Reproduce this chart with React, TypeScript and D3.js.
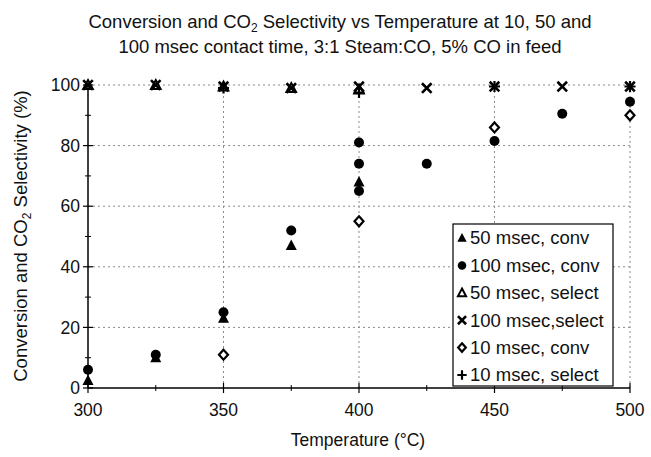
import React from "react";
import * as d3 from "d3";

// Temperatures (°C) paired with percent values for each series
const conv50: [number, number][] = [[300, 2.5], [325, 10], [350, 23], [375, 47], [400, 68]];
const conv100: [number, number][] = [
  [300, 6], [325, 11], [350, 25], [375, 52], [400, 81], [400, 74], [400, 65],
  [425, 74], [450, 81.5], [475, 90.5], [500, 94.5],
];
const sel50: [number, number][] = [[300, 100], [325, 100], [350, 99.5], [375, 99], [400, 98.5]];
const sel100: [number, number][] = [
  [300, 100], [325, 100], [350, 99.5], [375, 99], [400, 99.5],
  [425, 99], [450, 99.5], [475, 99.5], [500, 99.5],
];
const conv10: [number, number][] = [[350, 11], [400, 55], [450, 86], [500, 90]];
const sel10: [number, number][] = [[350, 99], [400, 97.5], [450, 99.5], [500, 99.5]];

const xTicks = [300, 350, 400, 450, 500];
const xMinor = [325, 375, 425, 475];
const yTicks = [0, 20, 40, 60, 80, 100];
const yMinor = [10, 30, 50, 70, 90];

type Shape = "triUp" | "dot" | "triOpen" | "cross" | "diamond" | "plus";

const series: { label: string; shape: Shape; data: [number, number][] }[] = [
  { label: "50 msec, conv", shape: "triUp", data: conv50 },
  { label: "100 msec, conv", shape: "dot", data: conv100 },
  { label: "50 msec, select", shape: "triOpen", data: sel50 },
  { label: "100 msec,select", shape: "cross", data: sel100 },
  { label: "10 msec, conv", shape: "diamond", data: conv10 },
  { label: "10 msec, select", shape: "plus", data: sel10 },
];

const FONT = "'Liberation Sans', Arial, sans-serif";

function Marker({ shape, x, y, s = 1 }: { shape: Shape; x: number; y: number; s?: number }) {
  const k = s;
  switch (shape) {
    case "triUp":
      return <path d={`M${x},${y - 6 * k}L${x + 5.5 * k},${y + 4.5 * k}L${x - 5.5 * k},${y + 4.5 * k}Z`} fill="#000" />;
    case "dot":
      return <circle cx={x} cy={y} r={5 * k} fill="#000" />;
    case "triOpen":
      return (
        <path d={`M${x},${y - 5 * k}L${x + 4.8 * k},${y + 4 * k}L${x - 4.8 * k},${y + 4 * k}Z`}
          fill="none" stroke="#000" strokeWidth={2} />
      );
    case "cross":
      return (
        <path d={`M${x - 4.8 * k},${y - 4.8 * k}L${x + 4.8 * k},${y + 4.8 * k}M${x + 4.8 * k},${y - 4.8 * k}L${x - 4.8 * k},${y + 4.8 * k}`}
          stroke="#000" strokeWidth={2.6} />
      );
    case "diamond":
      return (
        <path d={`M${x},${y - 5 * k}L${x + 4.5 * k},${y}L${x},${y + 5 * k}L${x - 4.5 * k},${y}Z`}
          fill="#fff" stroke="#000" strokeWidth={2.2} />
      );
    case "plus":
      return (
        <path d={`M${x - 5.5 * k},${y}L${x + 5.5 * k},${y}M${x},${y - 5.5 * k}L${x},${y + 5.5 * k}`}
          stroke="#000" strokeWidth={2.2} />
      );
  }
}

export default function App() {
  const W = 651, H = 457;
  const x = d3.scaleLinear().domain([300, 500]).range([88, 630]);
  const y = d3.scaleLinear().domain([0, 100]).range([388, 85]);
  const [x0, x1] = x.range();
  const [y0, y1] = y.range();

  const legend = { x: 453, y: 224, w: 160, h: 162 };
  const rowY = d3.scaleLinear().domain([0, series.length - 1]).range([238, 375]);

  return (
    <svg width={W} height={H} style={{ position: "absolute", left: 0, top: 0, background: "#fff" }}
      fontFamily={FONT}>
      <rect width={W} height={H} fill="#fff" />
      {/* title */}
      <text x={340} y={28} textAnchor="middle" fontSize={18.5} fill="#111">
        Conversion and CO<tspan fontSize={12} dy={4}>2</tspan><tspan dy={-4}> Selectivity vs Temperature at 10, 50 and</tspan>
      </text>
      <text x={340} y={53} textAnchor="middle" fontSize={18.5} fill="#111">
        100 msec contact time, 3:1 Steam:CO, 5% CO in feed
      </text>

      {/* grid */}
      {yTicks.filter((t) => t > 0).map((t) => (
        <line key={"gy" + t} x1={x0} x2={x1} y1={y(t)} y2={y(t)} stroke="#8a8a8a" strokeWidth={1} strokeDasharray="2,3" />
      ))}
      {xTicks.filter((t) => t > 300).map((t) => (
        <line key={"gx" + t} x1={x(t)} x2={x(t)} y1={y0} y2={y1} stroke="#8a8a8a" strokeWidth={1} strokeDasharray="2,3" />
      ))}

      {/* axes */}
      <line x1={x0} x2={x0} y1={y0} y2={y1} stroke="#000" strokeWidth={1.5} />
      <line x1={x0} x2={x1} y1={y0} y2={y0} stroke="#000" strokeWidth={1.5} />
      {yTicks.map((t) => (
        <g key={"yt" + t}>
          <line x1={x0 - 5} x2={x0 + 5} y1={y(t)} y2={y(t)} stroke="#000" strokeWidth={1.2} />
          <text x={x0 - 8} y={y(t)} dy="0.35em" textAnchor="end" fontSize={17.5} fill="#111">{t}</text>
        </g>
      ))}
      {yMinor.map((t) => (
        <line key={"ym" + t} x1={x0 - 3} x2={x0 + 3} y1={y(t)} y2={y(t)} stroke="#000" strokeWidth={1} />
      ))}
      {xTicks.map((t) => (
        <g key={"xt" + t}>
          <line x1={x(t)} x2={x(t)} y1={y0 - 5} y2={y0 + 5} stroke="#000" strokeWidth={1.2} />
          <text x={x(t)} y={y0 + 28} textAnchor="middle" fontSize={17.5} fill="#111">{t}</text>
        </g>
      ))}
      {xMinor.map((t) => (
        <line key={"xm" + t} x1={x(t)} x2={x(t)} y1={y0 - 3} y2={y0 + 3} stroke="#000" strokeWidth={1} />
      ))}

      {/* axis titles */}
      <text x={358} y={446} textAnchor="middle" fontSize={17.5} fill="#111">Temperature (°C)</text>
      <text transform={`translate(27,${236}) rotate(-90)`} textAnchor="middle" fontSize={18.5} fill="#111">
        Conversion and CO<tspan fontSize={12} dy={4}>2</tspan><tspan dy={-4}> Selectivity (%)</tspan>
      </text>

      {/* points */}
      {series.map((s) => (
        <g key={s.label}>
          {s.data.map(([t, v], i) => (
            <Marker key={i} shape={s.shape} x={x(t)} y={y(v)} />
          ))}
        </g>
      ))}

      {/* legend */}
      <rect x={legend.x} y={legend.y} width={legend.w} height={legend.h} fill="#fff" stroke="#000" strokeWidth={1.2} />
      {series.map((s, i) => (
        <g key={"lg" + s.label}>
          <Marker shape={s.shape} x={462} y={rowY(i)} s={0.85} />
          <text x={470} y={rowY(i)} dy="0.35em" fontSize={18.5} fill="#111">{s.label}</text>
        </g>
      ))}
    </svg>
  );
}
